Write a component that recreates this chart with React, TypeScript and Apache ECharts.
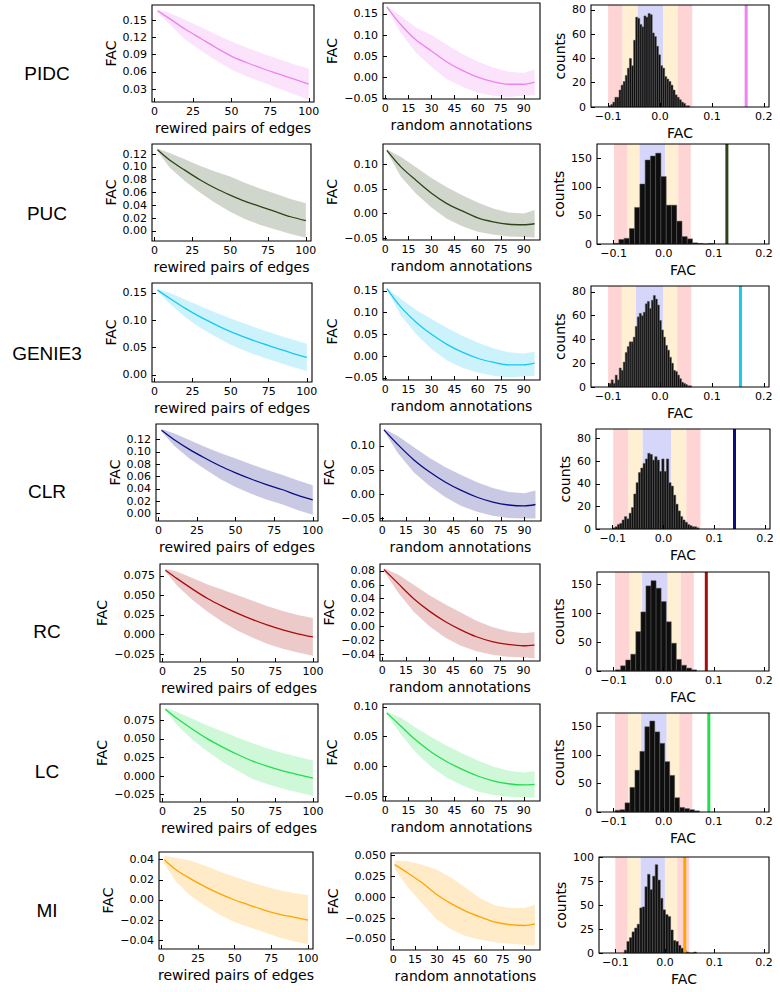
import React, { useEffect, useRef } from "react";
import * as echarts from "echarts";

// ---------- shared categories / ticks ----------
const methods = ["PIDC", "PUC", "GENIE3", "CLR", "RC", "LC", "MI"];
const methodColors = ["#ee82ee", "#2c4417", "#16c8f2", "#0b0b84", "#a80d0d", "#22dd4e", "#ffa500"];
const rewiredX = [2, 10, 20, 30, 40, 50, 60, 70, 80, 90, 100];
const annotX = [1, 10, 20, 30, 40, 50, 60, 70, 80, 90, 97];
const rewiredTicks = [0, 25, 50, 75, 100];
const annotTicks = [0, 15, 30, 45, 60, 75, 90];
const facTicks = [-0.1, 0, 0.1, 0.2];

// ---------- PIDC ----------
const pidcRewMean = [0.166, 0.152, 0.134, 0.118, 0.102, 0.087, 0.076, 0.066, 0.057, 0.048, 0.039];
const pidcRewHigh = [0.168, 0.162, 0.150, 0.138, 0.125, 0.113, 0.102, 0.092, 0.083, 0.074, 0.066];
const pidcRewLow = [0.164, 0.142, 0.116, 0.097, 0.080, 0.064, 0.052, 0.042, 0.032, 0.022, 0.012];
const pidcAnnMean = [0.167, 0.125, 0.088, 0.062, 0.036, 0.016, 0.0, -0.011, -0.017, -0.017, -0.012];
const pidcAnnHigh = [0.169, 0.145, 0.118, 0.100, 0.077, 0.055, 0.037, 0.023, 0.013, 0.010, 0.018];
const pidcAnnLow = [0.165, 0.105, 0.058, 0.024, -0.005, -0.023, -0.037, -0.044, -0.047, -0.044, -0.043];
const pidcHistStart = -0.099;
const pidcHistWidth = 0.004;
const pidcCounts = [1, 2, 4, 8, 8, 14, 18, 21, 26, 32, 40, 34, 55, 74, 73, 68, 66, 75, 74, 77, 76, 61, 58, 50, 43, 34, 32, 25, 23, 21, 18, 14, 10, 8, 6, 4, 3, 1, 1];
const pidcSigmaEdges = [-0.1, -0.072, -0.043, 0.006, 0.034, 0.062];
const pidcObserved = 0.166;

// ---------- PUC ----------
const pucRewMean = [0.127, 0.111, 0.095, 0.080, 0.067, 0.056, 0.046, 0.038, 0.030, 0.022, 0.016];
const pucRewHigh = [0.129, 0.122, 0.112, 0.102, 0.093, 0.085, 0.075, 0.066, 0.058, 0.050, 0.043];
const pucRewLow = [0.125, 0.099, 0.078, 0.060, 0.044, 0.030, 0.018, 0.009, 0.002, -0.005, -0.011];
const pucAnnMean = [0.128, 0.095, 0.067, 0.041, 0.020, 0.005, -0.009, -0.017, -0.022, -0.023, -0.021];
const pucAnnHigh = [0.130, 0.115, 0.094, 0.072, 0.053, 0.037, 0.022, 0.010, 0.002, 0.0, 0.007];
const pucAnnLow = [0.126, 0.075, 0.040, 0.012, -0.011, -0.026, -0.037, -0.043, -0.047, -0.048, -0.049];
const pucHistStart = -0.1;
const pucHistWidth = 0.0105;
const pucCounts = [1, 8, 10, 27, 64, 105, 147, 154, 159, 118, 68, 68, 40, 13, 9, 2, 1, 0, 1];
const pucSigmaEdges = [-0.099, -0.072, -0.048, 0.003, 0.029, 0.054];
const pucObserved = 0.126;

// ---------- GENIE3 ----------
const genieRewMean = [0.155, 0.140, 0.122, 0.106, 0.092, 0.079, 0.068, 0.058, 0.049, 0.040, 0.032];
const genieRewHigh = [0.157, 0.150, 0.138, 0.126, 0.114, 0.103, 0.093, 0.083, 0.074, 0.065, 0.057];
const genieRewLow = [0.153, 0.130, 0.106, 0.086, 0.070, 0.055, 0.043, 0.033, 0.024, 0.015, 0.007];
const genieAnnMean = [0.155, 0.113, 0.078, 0.050, 0.027, 0.009, -0.005, -0.014, -0.020, -0.020, -0.016];
const genieAnnHigh = [0.157, 0.132, 0.106, 0.085, 0.065, 0.047, 0.031, 0.018, 0.009, 0.006, 0.010];
const genieAnnLow = [0.153, 0.094, 0.050, 0.016, -0.010, -0.027, -0.038, -0.045, -0.049, -0.047, -0.045];
const genieHistStart = -0.098;
const genieHistWidth = 0.00387;
const genieCounts = [3, 6, 3, 10, 6, 16, 14, 21, 29, 34, 38, 38, 42, 51, 59, 62, 60, 63, 70, 72, 66, 73, 77, 74, 69, 56, 48, 42, 35, 31, 25, 20, 14, 13, 10, 7, 4, 3, 2, 1, 1];
const genieSigmaEdges = [-0.1, -0.0735, -0.0465, 0.0065, 0.033, 0.06];
const genieObserved = 0.155;

// ---------- CLR ----------
const clrRewMean = [0.135, 0.120, 0.104, 0.090, 0.077, 0.066, 0.056, 0.047, 0.039, 0.030, 0.022];
const clrRewHigh = [0.137, 0.130, 0.119, 0.108, 0.098, 0.089, 0.080, 0.071, 0.063, 0.054, 0.046];
const clrRewLow = [0.133, 0.110, 0.089, 0.072, 0.056, 0.043, 0.032, 0.023, 0.015, 0.006, -0.002];
const clrAnnMean = [0.133, 0.102, 0.071, 0.046, 0.025, 0.008, -0.006, -0.016, -0.022, -0.024, -0.021];
const clrAnnHigh = [0.135, 0.120, 0.097, 0.075, 0.056, 0.040, 0.025, 0.013, 0.005, 0.002, 0.008];
const clrAnnLow = [0.131, 0.084, 0.045, 0.017, -0.006, -0.024, -0.036, -0.044, -0.049, -0.050, -0.050];
const clrHistStart = -0.1;
const clrHistWidth = 0.0046;
const clrCounts = [1, 2, 4, 5, 8, 11, 9, 14, 19, 31, 41, 50, 54, 58, 62, 67, 66, 61, 64, 61, 51, 62, 51, 62, 41, 38, 30, 22, 16, 11, 8, 6, 4, 3, 2, 2, 1];
const clrSigmaEdges = [-0.099, -0.069, -0.041, 0.0157, 0.045, 0.073];
const clrObserved = 0.14;

// ---------- RC ----------
const rcRewMean = [0.082, 0.071, 0.058, 0.046, 0.036, 0.027, 0.019, 0.012, 0.006, 0.001, -0.003];
const rcRewHigh = [0.084, 0.080, 0.072, 0.064, 0.057, 0.050, 0.043, 0.036, 0.030, 0.025, 0.021];
const rcRewLow = [0.080, 0.062, 0.044, 0.029, 0.016, 0.005, -0.004, -0.012, -0.018, -0.023, -0.027];
const rcAnnMean = [0.082, 0.062, 0.040, 0.022, 0.007, -0.005, -0.015, -0.022, -0.026, -0.028, -0.027];
const rcAnnHigh = [0.084, 0.075, 0.060, 0.045, 0.032, 0.020, 0.008, -0.001, -0.007, -0.010, -0.008];
const rcAnnLow = [0.080, 0.049, 0.021, 0.0, -0.016, -0.028, -0.036, -0.041, -0.044, -0.045, -0.046];
const rcHistStart = -0.096;
const rcHistWidth = 0.0101;
const rcCounts = [2, 9, 19, 29, 68, 102, 147, 156, 143, 120, 85, 48, 20, 10, 5, 2];
const rcSigmaEdges = [-0.097, -0.068, -0.043, 0.008, 0.034, 0.06];
const rcObserved = 0.085;

// ---------- LC ----------
const lcRewMean = [0.090, 0.077, 0.063, 0.050, 0.039, 0.029, 0.020, 0.013, 0.007, 0.002, -0.003];
const lcRewHigh = [0.092, 0.086, 0.077, 0.068, 0.060, 0.052, 0.044, 0.037, 0.031, 0.026, 0.021];
const lcRewLow = [0.088, 0.068, 0.049, 0.033, 0.019, 0.007, -0.004, -0.011, -0.017, -0.022, -0.027];
const lcAnnMean = [0.090, 0.068, 0.044, 0.024, 0.008, -0.005, -0.016, -0.024, -0.029, -0.031, -0.030];
const lcAnnHigh = [0.092, 0.082, 0.065, 0.049, 0.035, 0.022, 0.010, 0.0, -0.007, -0.010, -0.008];
const lcAnnLow = [0.088, 0.054, 0.023, -0.001, -0.019, -0.032, -0.042, -0.048, -0.051, -0.052, -0.052];
const lcHistStart = -0.097;
const lcHistWidth = 0.0099;
const lcCounts = [3, 4, 16, 43, 73, 106, 149, 159, 140, 120, 88, 64, 25, 8, 6, 4, 2];
const lcSigmaEdges = [-0.097, -0.071, -0.045, 0.006, 0.031, 0.057];
const lcObserved = 0.09;

// ---------- MI ----------
const miRewMean = [0.040, 0.030, 0.021, 0.013, 0.006, 0.0, -0.005, -0.010, -0.014, -0.017, -0.020];
const miRewHigh = [0.044, 0.042, 0.039, 0.034, 0.028, 0.023, 0.018, 0.014, 0.010, 0.007, 0.005];
const miRewLow = [0.036, 0.018, 0.004, -0.006, -0.015, -0.022, -0.027, -0.032, -0.037, -0.041, -0.044];
const miAnnMean = [0.039, 0.029, 0.017, 0.003, -0.008, -0.017, -0.024, -0.030, -0.033, -0.034, -0.032];
const miAnnHigh = [0.044, 0.043, 0.039, 0.033, 0.023, 0.011, -0.002, -0.010, -0.013, -0.013, -0.009];
const miAnnLow = [0.034, 0.012, -0.008, -0.027, -0.039, -0.047, -0.051, -0.054, -0.056, -0.057, -0.058];
const miHistStart = -0.082;
const miHistWidth = 0.0052;
const miCounts = [3, 12, 16, 22, 26, 30, 47, 48, 69, 82, 66, 80, 92, 76, 57, 45, 40, 38, 24, 13, 12, 8, 5, 3, 1, 0, 0, 1];
const miSigmaEdges = [-0.1, -0.075, -0.049, 0.0, 0.025, 0.049];
const miObserved = 0.04;

// ---------- y tick labels per panel ----------
const pidcRewTicks = [0.03, 0.06, 0.09, 0.12, 0.15];
const pidcAnnTicks = [-0.05, 0, 0.05, 0.1, 0.15];
const pucRewTicks = [0, 0.02, 0.04, 0.06, 0.08, 0.1, 0.12];
const pucAnnTicks = [-0.05, 0, 0.05, 0.1];
const genieRewTicks = [0, 0.05, 0.1, 0.15];
const genieAnnTicks = [-0.05, 0, 0.05, 0.1, 0.15];
const clrRewTicks = [0, 0.02, 0.04, 0.06, 0.08, 0.1, 0.12];
const clrAnnTicks = [-0.05, 0, 0.05, 0.1];
const rcRewTicks = [-0.025, 0, 0.025, 0.05, 0.075];
const rcAnnTicks = [-0.04, -0.02, 0, 0.02, 0.04, 0.06, 0.08];
const lcRewTicks = [-0.025, 0, 0.025, 0.05, 0.075];
const lcAnnTicks = [-0.05, 0, 0.05, 0.1];
const miRewTicks = [-0.04, -0.02, 0, 0.02, 0.04];
const miAnnTicks = [-0.05, -0.025, 0, 0.025, 0.05];
const count80Ticks = [0, 20, 40, 60, 80];
const count150Ticks = [0, 50, 100, 150];
const count100Ticks = [0, 25, 50, 75, 100];

const rows = [
  { rew: [pidcRewMean, pidcRewLow, pidcRewHigh, pidcRewTicks, 2], ann: [pidcAnnMean, pidcAnnLow, pidcAnnHigh, pidcAnnTicks, 2], hist: [pidcHistStart, pidcHistWidth, pidcCounts, pidcSigmaEdges, pidcObserved, count80Ticks] },
  { rew: [pucRewMean, pucRewLow, pucRewHigh, pucRewTicks, 2], ann: [pucAnnMean, pucAnnLow, pucAnnHigh, pucAnnTicks, 2], hist: [pucHistStart, pucHistWidth, pucCounts, pucSigmaEdges, pucObserved, count150Ticks] },
  { rew: [genieRewMean, genieRewLow, genieRewHigh, genieRewTicks, 2], ann: [genieAnnMean, genieAnnLow, genieAnnHigh, genieAnnTicks, 2], hist: [genieHistStart, genieHistWidth, genieCounts, genieSigmaEdges, genieObserved, count80Ticks] },
  { rew: [clrRewMean, clrRewLow, clrRewHigh, clrRewTicks, 2], ann: [clrAnnMean, clrAnnLow, clrAnnHigh, clrAnnTicks, 2], hist: [clrHistStart, clrHistWidth, clrCounts, clrSigmaEdges, clrObserved, count80Ticks] },
  { rew: [rcRewMean, rcRewLow, rcRewHigh, rcRewTicks, 3], ann: [rcAnnMean, rcAnnLow, rcAnnHigh, rcAnnTicks, 2], hist: [rcHistStart, rcHistWidth, rcCounts, rcSigmaEdges, rcObserved, count150Ticks] },
  { rew: [lcRewMean, lcRewLow, lcRewHigh, lcRewTicks, 3], ann: [lcAnnMean, lcAnnLow, lcAnnHigh, lcAnnTicks, 2], hist: [lcHistStart, lcHistWidth, lcCounts, lcSigmaEdges, lcObserved, count150Ticks] },
  { rew: [miRewMean, miRewLow, miRewHigh, miRewTicks, 2], ann: [miAnnMean, miAnnLow, miAnnHigh, miAnnTicks, 3], hist: [miHistStart, miHistWidth, miCounts, miSigmaEdges, miObserved, count100Ticks] },
];

// ---------- layout: boxes [x0, y0, x1, y1, yMin, yMax] ----------
const layout = [
  { labelY: 73, L: [152, 5, 314, 102, 0.008, 0.176], M: [383, 3, 540, 99, -0.052, 0.176], H: [591, 5, 769, 107, 0, 84] },
  { labelY: 213, L: [152, 144, 311, 241, -0.016, 0.136], M: [383, 144, 540, 240, -0.054, 0.141], H: [597, 144, 769, 244, 0, 175] },
  { labelY: 353, L: [152, 283, 312, 382, -0.013, 0.168], M: [383, 283, 540, 380, -0.055, 0.168], H: [591, 286, 769, 387, 0, 85] },
  { labelY: 491, L: [156, 424, 318, 521, -0.012, 0.145], M: [380, 424, 541, 521, -0.055, 0.145], H: [596, 429, 770, 529, 0, 88.5] },
  { labelY: 631, L: [160, 564, 318, 662, -0.035, 0.09], M: [380, 564, 540, 661, -0.05, 0.09], H: [597, 572, 769, 671, 0, 171] },
  { labelY: 771, L: [160, 704, 318, 802, -0.035, 0.097], M: [383, 704, 540, 801, -0.058, 0.105], H: [597, 713, 769, 812, 0, 173] },
  { labelY: 910, L: [159, 852, 313, 949, -0.0486, 0.0476], M: [391, 853, 540, 950, -0.0634, 0.053], H: [599, 857, 769, 953, 0, 100] },
];
const rewRange = [-1.6, 103.4];
const annRange = [-1.5, 100.5];
const histRange = [-0.133, 0.21];
const bandColors = ["#ffd4d4", "#fff0d4", "#d6d6fa", "#fff0d4", "#ffd4d4"];

const FONT = "DejaVu Sans";

function fmt(v: number, dec: number) {
  const s = (Math.abs(v) < 1e-9 ? 0 : v).toFixed(dec);
  return s.replace("-", "\u2212");
}
function labelWidth(s: string) {
  let w = 0;
  for (const ch of s) w += ch === "." ? 3.5 : ch === "\u2212" ? 9.2 : 7.0;
  return w;
}

function buildOption() {
  const grid: any[] = [];
  const xAxis: any[] = [];
  const yAxis: any[] = [];
  const series: any[] = [];
  const graphic: any[] = [];

  const addPanel = (box: number[], xr: number[], xTicks: number[], xDec: number, xName: string, yTicks: number[], yDec: number, yName: string) => {
    const g = grid.length;
    grid.push({ left: box[0], top: box[1], width: box[2] - box[0], height: box[3] - box[1], show: false });
    const common = {
      gridIndex: g,
      type: "value",
      z: 6,
      axisLine: { show: false, onZero: false },
      splitLine: { show: false },
      nameLocation: "middle",
      nameTextStyle: { color: "#000", fontSize: 14, fontFamily: FONT },
    };
    xAxis.push({
      ...common,
      position: "bottom",
      min: xr[0],
      max: xr[1],
      axisTick: { show: true, inside: true, length: 4, customValues: xTicks, lineStyle: { color: "#000", width: 1 } },
      axisLabel: { customValues: xTicks, formatter: (v: number) => fmt(v, xDec), color: "#000", fontSize: 11, fontFamily: FONT, margin: 4 },
      name: xName,
      nameGap: 19,
    });
    const yw = Math.max(...yTicks.map((t) => labelWidth(fmt(t, yDec))));
    yAxis.push({
      ...common,
      position: "left",
      min: box[4],
      max: box[5],
      axisTick: { show: true, inside: true, length: 4, customValues: yTicks, lineStyle: { color: "#000", width: 1 } },
      axisLabel: { customValues: yTicks, formatter: (v: number) => fmt(v, yDec), color: "#000", fontSize: 11, fontFamily: FONT, margin: 5 },
      name: yName,
      nameGap: yw + 10,
    });
    series.push({
      type: "custom",
      xAxisIndex: g,
      yAxisIndex: g,
      z: 10,
      silent: true,
      data: [[xr[0], box[4]]],
      renderItem: (params: any) => {
        const cs = params.coordSys;
        return { type: "rect", shape: { x: cs.x, y: cs.y, width: cs.width, height: cs.height }, style: { fill: "none", stroke: "#000", lineWidth: 1.1 } };
      },
    });
    return g;
  };

  const addCurve = (g: number, xs: number[], mean: number[], low: number[], high: number[], color: string) => {
    series.push({
      type: "custom",
      xAxisIndex: g,
      yAxisIndex: g,
      z: 2,
      silent: true,
      data: [[xs[0], mean[0]]],
      renderItem: (_p: any, api: any) => {
        const pts: number[][] = [];
        for (let i = 0; i < xs.length; i++) pts.push(api.coord([xs[i], high[i]]));
        for (let i = xs.length - 1; i >= 0; i--) pts.push(api.coord([xs[i], low[i]]));
        return { type: "polygon", shape: { points: pts }, style: { fill: color, opacity: 0.22 } };
      },
    });
    series.push({
      type: "line",
      xAxisIndex: g,
      yAxisIndex: g,
      z: 3,
      silent: true,
      showSymbol: false,
      symbol: "none",
      smooth: 0.3,
      data: xs.map((x, i) => [x, mean[i]]),
      lineStyle: { color, width: 1.3 },
      itemStyle: { color },
    });
  };

  rows.forEach((row, r) => {
    const lay = layout[r];
    const color = methodColors[r];
    graphic.push({
      type: "text",
      x: 47,
      y: lay.labelY,
      style: { text: methods[r], font: '19px "Liberation Sans"', fill: "#000", textAlign: "center", textVerticalAlign: "middle", align: "center", verticalAlign: "middle" },
    });

    const [rm, rl, rh, rt, rd] = row.rew as any;
    const g1 = addPanel(lay.L, rewRange, rewiredTicks, 0, "rewired pairs of edges", rt, rd, "FAC");
    addCurve(g1, rewiredX, rm, rl, rh, color);

    const [am, al, ah, at, ad] = row.ann as any;
    const g2 = addPanel(lay.M, annRange, annotTicks, 0, "random annotations", at, ad, "FAC");
    addCurve(g2, annotX, am, al, ah, color);

    const [hs, hw, counts, edges, obs, ht] = row.hist as any;
    const g3 = addPanel(lay.H, histRange, facTicks, 1, "FAC", ht, 0, "counts");
    series.push({
      type: "custom",
      xAxisIndex: g3,
      yAxisIndex: g3,
      z: 1,
      silent: true,
      data: (edges as number[]).slice(0, 5).map((e: number, i: number) => [e, edges[i + 1], i]),
      encode: { x: [0, 1] },
      renderItem: (params: any, api: any) => {
        const cs = params.coordSys;
        const a = api.coord([api.value(0), 0]);
        const b = api.coord([api.value(1), 0]);
        return { type: "rect", shape: { x: a[0], y: cs.y, width: b[0] - a[0], height: cs.height }, style: { fill: bandColors[api.value(2)] } };
      },
    });
    series.push({
      type: "custom",
      xAxisIndex: g3,
      yAxisIndex: g3,
      z: 2,
      silent: true,
      data: (counts as number[]).map((c: number, i: number) => [hs + i * hw, hs + (i + 1) * hw, c]),
      encode: { x: [0, 1], y: 2 },
      renderItem: (_p: any, api: any) => {
        const p0 = api.coord([api.value(0), api.value(2)]);
        const p1 = api.coord([api.value(1), 0]);
        return { type: "rect", shape: { x: p0[0], y: p0[1], width: p1[0] - p0[0], height: p1[1] - p0[1] }, style: { fill: "#0e0e0e", stroke: "#5a5a5a", lineWidth: 0.5 } };
      },
    });
    series.push({
      type: "custom",
      xAxisIndex: g3,
      yAxisIndex: g3,
      z: 4,
      silent: true,
      data: [[obs, 0]],
      renderItem: (params: any, api: any) => {
        const cs = params.coordSys;
        const p = api.coord([api.value(0), 0]);
        return { type: "line", shape: { x1: p[0], y1: cs.y, x2: p[0], y2: cs.y + cs.height }, style: { stroke: color, lineWidth: 3 } };
      },
    });
  });

  return {
    animation: false,
    backgroundColor: "#fff",
    textStyle: { fontFamily: FONT },
    grid,
    xAxis,
    yAxis,
    series,
    graphic,
  };
}

export default function App() {
  const ref = useRef<HTMLDivElement>(null);
  useEffect(() => {
    if (!ref.current) return;
    const chart = echarts.init(ref.current, undefined, { renderer: "svg" });
    chart.setOption(buildOption() as any);
    return () => chart.dispose();
  }, []);
  return <div ref={ref} style={{ position: "absolute", left: 0, top: 0, width: 780, height: 992 }} />;
}
